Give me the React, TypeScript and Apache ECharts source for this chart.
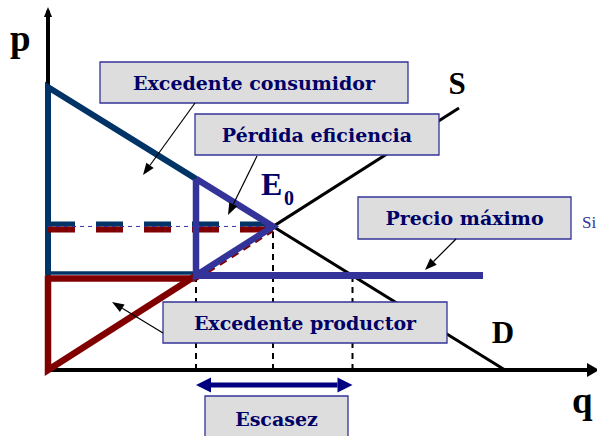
import React, { useEffect, useRef } from "react";
import * as echarts from "echarts";

// ---- data (quantity q, price p) ----
const qAxisMax = 109;
const pAxisMax = 100;
const demandLine: number[][] = [[0, 79], [91.4, 0]];
const supplyLine: number[][] = [[0, 0], [82.2, 73.2]];
const equilibrium: number[] = [45, 40.1];
const priceCeiling = 26.4;
const qSupplied = 29.6;
const qDemanded = 60.9;
const pDemandAtQs = 53.4;
const ceilingEndQ = 87;

const boxLabels = ["Excedente consumidor", "Pérdida eficiencia", "Precio máximo", "Excedente productor", "Escasez"];
const axisNames = ["p", "q"];
const curveNames = ["S", "D"];

const NAVY = "#003366";
const PURPLE = "#333399";
const MAROON = "#800000";
const TEXT = "#000066";

function seg(id: string, pts: number[][], stroke: string, width: number, z: number, dy = 0, dash?: number[]) {
  return {
    id,
    type: "custom",
    coordinateSystem: "cartesian2d",
    data: pts,
    encode: { x: 0, y: 1 },
    z,
    silent: true,
    renderItem: (params: any, api: any) => {
      if (params.dataIndex !== 0) return { type: "group", children: [] };
      const points = pts.map((p) => {
        const c = api.coord(p);
        return [c[0], c[1] + dy];
      });
      return {
        type: "polyline",
        shape: { points },
        style: {
          stroke,
          lineWidth: width,
          lineDash: dash || null,
          fill: "none",
          lineJoin: "miter",
          lineCap: "butt",
        },
      };
    },
  };
}

function arrowGraphic(x1: number, y1: number, x2: number, y2: number, color: string, width: number, hl: number, hw: number) {
  const dx = x2 - x1, dy = y2 - y1;
  const len = Math.hypot(dx, dy);
  const ux = dx / len, uy = dy / len;
  const bx = x2 - ux * hl, by = y2 - uy * hl;
  const px = -uy, py = ux;
  return [
    { type: "line", z: 100, shape: { x1, y1, x2: bx, y2: by }, style: { stroke: color, lineWidth: width } },
    {
      type: "polygon", z: 100,
      shape: { points: [[x2, y2], [bx + px * hw / 2, by + py * hw / 2], [bx - px * hw / 2, by - py * hw / 2]] },
      style: { fill: color },
    },
  ];
}

function box(x: number, y: number, w: number, h: number, label: string) {
  return [
    { type: "rect", z: 100, shape: { x, y, width: w, height: h }, style: { fill: "#dddddd", stroke: PURPLE, lineWidth: 1.3 } },
    {
      type: "text", z: 101, x: x + w / 2, y: y + h / 2,
      style: { text: label, fill: TEXT, font: "bold 19px 'DejaVu Serif'", align: "center", verticalAlign: "middle" },
    },
  ];
}

function bigText(text: string, x: number, y: number, size: number, color = "#000", align = "left") {
  return {
    type: "text", z: 101, x, y,
    style: { text, fill: color, font: `bold ${size}px 'Liberation Serif'`, align, verticalAlign: "middle" },
  };
}

export default function App() {
  const ref = useRef<HTMLDivElement>(null);
  useEffect(() => {
    if (!ref.current) return;
    const chart = echarts.init(ref.current, null, { renderer: "svg" });
    const [eq, ep] = equilibrium;
    chart.setOption({
      animation: false,
      backgroundColor: "#fff",
      grid: { left: 48, right: 4, top: 12, bottom: 66 },
      xAxis: {
        type: "value", min: 0, max: qAxisMax,
        axisLine: { show: true, onZero: false, lineStyle: { color: "#000", width: 4 }, symbol: ["none", "triangle"], symbolSize: [14, 12] },
        axisTick: { show: false }, axisLabel: { show: false }, splitLine: { show: false },
      },
      yAxis: {
        type: "value", min: 0, max: pAxisMax,
        axisLine: { show: true, onZero: false, lineStyle: { color: "#000", width: 4 }, symbol: ["none", "triangle"], symbolSize: [8, 10] },
        axisTick: { show: false }, axisLabel: { show: false }, splitLine: { show: false },
      },
      series: [
        seg("demand", demandLine, "#000", 3, 2),
        seg("supply", supplyLine, "#000", 3, 2),
        seg("v1", [[qSupplied, 0], [qSupplied, priceCeiling]], "#000", 2, 3, 0, [6, 5]),
        seg("v2", [[eq, 0], [eq, ep]], "#000", 2, 3, 0, [6, 5]),
        seg("v3", [[qDemanded, 0], [qDemanded, priceCeiling]], "#000", 2, 3, 0, [6, 5]),
        seg("consEdge", [[0, priceCeiling], [0, demandLine[0][1]], [qSupplied, pDemandAtQs]], NAVY, 6, 4),
        seg("consBase", [[0, priceCeiling], [qSupplied, priceCeiling]], NAVY, 3.5, 4, -2.5),
        seg("prodEdge", [[0, priceCeiling], [0, 0], [qSupplied, priceCeiling]], MAROON, 6.5, 5),
        seg("prodBase", [[0, priceCeiling], [qSupplied, priceCeiling]], MAROON, 6.5, 5, 3),
        seg("prodExt", [[qSupplied, priceCeiling], [eq, ep]], MAROON, 3, 5, 4, [8, 6]),
        seg("eqNavy", [[0, ep], [eq, ep]], NAVY, 5, 6, -2.5, [27, 21]),
        seg("eqRed", [[0, ep], [eq, ep]], MAROON, 6, 6, 3, [27, 21]),
        seg("eqThin", [[0, ep], [eq, ep]], PURPLE, 1, 6, 0, [4, 4]),
        seg("dwl", [[qSupplied, pDemandAtQs], [qSupplied, priceCeiling], [eq, ep], [qSupplied, pDemandAtQs]], PURPLE, 6.5, 7),
        seg("ceiling", [[qSupplied, priceCeiling], [ceilingEndQ, priceCeiling]], PURPLE, 7, 7),
      ],
    });

    const xs = chart.convertToPixel({ xAxisIndex: 0 }, qSupplied) as number;
    const xd = chart.convertToPixel({ xAxisIndex: 0 }, qDemanded) as number;
    const ay = 385;
    const hl = 15, hw = 15;
    const graphic: any[] = [
      ...box(100, 62, 308, 41, boxLabels[0]),
      ...box(195, 114, 244, 41, boxLabels[1]),
      ...box(358, 197, 213, 42, boxLabels[2]),
      ...box(163, 302, 284, 41, boxLabels[3]),
      ...box(205, 396, 143, 46, boxLabels[4]),
      ...arrowGraphic(195, 103, 143, 175, "#000", 1.2, 12, 9),
      ...arrowGraphic(257, 156, 228, 215, "#000", 1.2, 12, 9),
      ...arrowGraphic(456, 239, 425, 270, "#000", 1.2, 12, 9),
      ...arrowGraphic(163, 333, 112, 302, "#000", 1.2, 12, 9),
      { type: "line", z: 100, shape: { x1: xs + hl, y1: ay, x2: xd - hl, y2: ay }, style: { stroke: "#000080", lineWidth: 5 } },
      { type: "polygon", z: 100, shape: { points: [[xs, ay], [xs + hl, ay - hw / 2], [xs + hl, ay + hw / 2]] }, style: { fill: "#000080" } },
      { type: "polygon", z: 100, shape: { points: [[xd, ay], [xd - hl, ay - hw / 2], [xd - hl, ay + hw / 2]] }, style: { fill: "#000080" } },
      bigText(axisNames[0], 10, 38, 37),
      bigText(axisNames[1], 572, 400, 37),
      bigText(curveNames[0], 457, 83, 31, "#000", "center"),
      bigText(curveNames[1], 503, 332, 31, "#000", "center"),
      bigText("E", 261, 184, 32, TEXT),
      bigText("0", 284, 198, 20, TEXT),
      {
        type: "text", z: 101, x: 582, y: 222,
        style: { text: "Si", fill: PURPLE, font: "17px 'Liberation Serif'", align: "left", verticalAlign: "middle" },
      },
    ];
    chart.setOption({ graphic });
    return () => chart.dispose();
  }, []);
  return <div ref={ref} style={{ width: 597, height: 436, position: "absolute", left: 0, top: 0 }} />;
}
